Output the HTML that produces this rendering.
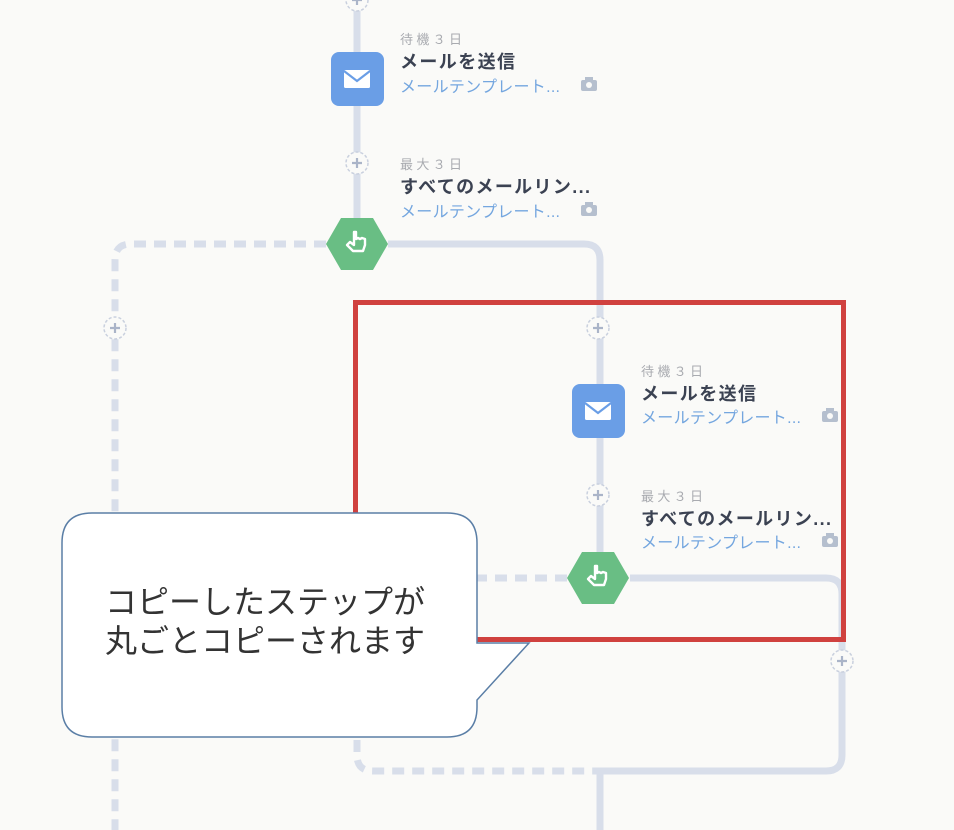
<!DOCTYPE html>
<html><head><meta charset="utf-8"><style>
html,body{margin:0;padding:0;background:#fafaf8;width:954px;height:830px;overflow:hidden}
svg{display:block}
text{font-family:"Liberation Sans","Noto Sans CJK JP",sans-serif}
.s{font-size:13px;fill:#a9abb0}
.b{font-size:18px;font-weight:bold;fill:#3b4252}
.l{font-size:16px;fill:#74a6df}
</style></head><body>
<svg width="954" height="830" viewBox="0 0 954 830" xmlns="http://www.w3.org/2000/svg">
<defs>
<g id="plus"><circle r="11" fill="#fafaf8" stroke="#c9d0de" stroke-width="1.5" stroke-dasharray="3 2"/><path d="M-5 0H5M0 -5V5" stroke="#aab4c8" stroke-width="2.2"/></g>
<g id="mail"><rect x="-26" y="-27" width="53" height="54" rx="8" fill="#6a9ee6"/><rect x="-13" y="-9" width="26" height="18" rx="1.5" fill="#fff"/><path d="M-13 -8L0 2L13 -8" stroke="#6a9ee6" stroke-width="2.2" fill="none"/></g>
<g id="hex"><polygon points="-31,0 -16,-26 16,-26 31,0 16,26 -16,26" fill="#69be84"/><path d="M-3 -12v13l-4-3-3 3 6 6h10l2-6v-6l-3-1-2 1-2-1-2 1v-7z" fill="none" stroke="#fff" stroke-width="2.4" stroke-linejoin="round"/></g>
<g id="cam"><rect x="-8" y="-5" width="16" height="11" rx="2" fill="#b5bfce"/><rect x="-4" y="-8" width="8" height="4" fill="#b5bfce"/><circle r="3" fill="#fafaf8"/></g>
</defs>
<g fill="none" stroke="#d8deea" stroke-width="7" stroke-linecap="butt">
<path d="M357 0V244"/>
<path d="M388 244H584Q600 244 600 260V578"/>
<path d="M630 578H826Q842 578 842 594V755Q842 771 826 771H600V830"/>
<g stroke-dasharray="12 8">
<path d="M326 244H131Q115 244 115 260V830"/>
<path d="M567 578H470"/>
<path d="M357 720V755Q357 771 373 771H600"/>
</g>
</g>
<use href="#plus" x="357" y="0"/>
<use href="#plus" x="357" y="163"/>
<use href="#plus" x="115" y="328"/>
<use href="#plus" x="598" y="328"/>
<use href="#plus" x="598" y="495"/>
<use href="#plus" x="842" y="661"/>
<use href="#mail" x="357" y="79"/>
<use href="#mail" x="598" y="411"/>
<use href="#hex" x="357" y="244"/>
<use href="#hex" x="598" y="578"/>
<use href="#cam" x="589" y="85"/>
<use href="#cam" x="589" y="210"/>
<use href="#cam" x="830" y="416"/>
<use href="#cam" x="830" y="541"/>
<text class="s" x="400" y="44" textLength="62">待機３日</text>
<text class="b" x="400" y="68" textLength="115">メールを送信</text>
<text class="l" x="400" y="92" textLength="160">メールテンプレート...</text>
<text class="s" x="400" y="169" textLength="62">最大３日</text>
<text class="b" x="400" y="193" textLength="190">すべてのメールリン...</text>
<text class="l" x="400" y="217" textLength="160">メールテンプレート...</text>
<text class="s" x="641" y="376" textLength="62">待機３日</text>
<text class="b" x="641" y="400" textLength="115">メールを送信</text>
<text class="l" x="641" y="423" textLength="160">メールテンプレート...</text>
<text class="s" x="641" y="501" textLength="62">最大３日</text>
<text class="b" x="641" y="525" textLength="190">すべてのメールリン...</text>
<text class="l" x="641" y="548" textLength="160">メールテンプレート...</text>
<rect x="355.5" y="302.5" width="488" height="337" fill="none" stroke="#d0413f" stroke-width="5"/>
<path d="M92 513H447Q477 513 477 543V643H529L477 700V707Q477 737 447 737H92Q62 737 62 707V543Q62 513 92 513Z" fill="#fff" stroke="#5a7ea6" stroke-width="1.5"/>
<text x="105" y="613" font-size="32" fill="#333">コピーしたステップが</text>
<text x="105" y="652" font-size="32" fill="#333">丸ごとコピーされます</text>
</svg>
</body></html>
